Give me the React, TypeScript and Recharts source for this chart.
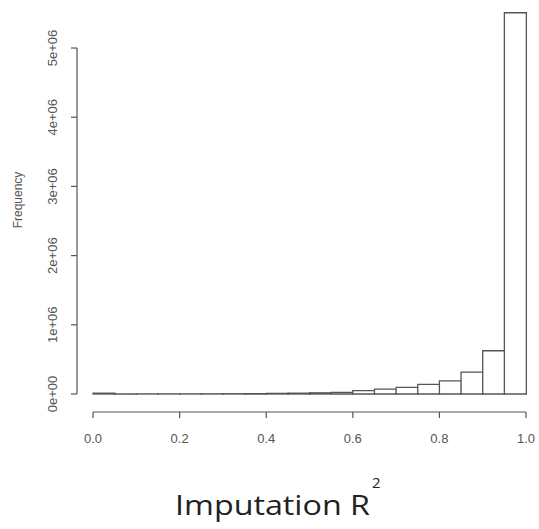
import React from 'react';
import { ComposedChart, Bar, XAxis, YAxis, ReferenceLine, Label } from 'recharts';

// histogram of imputation R^2, bins of width 0.05
const binStarts = [0, 0.05, 0.1, 0.15, 0.2, 0.25, 0.3, 0.35, 0.4, 0.45, 0.5, 0.55, 0.6, 0.65, 0.7, 0.75, 0.8, 0.85, 0.9, 0.95];
const frequency = [
  12000, 3000, 2000, 2000, 2000, 3000, 4000, 6000, 9000, 12000,
  17000, 25000, 48000, 72000, 97000, 140000, 190000, 315000, 625000, 5510000,
];
const binWidth = 0.05;

const xTicks = [0, 0.2, 0.4, 0.6, 0.8, 1];
const xTickLabels = ['0.0', '0.2', '0.4', '0.6', '0.8', '1.0'];
const yTicks = [0, 1e6, 2e6, 3e6, 4e6, 5e6];
const yTickLabels = ['0e+00', '1e+06', '2e+06', '3e+06', '4e+06', '5e+06'];

const data = binStarts.map((s, i) => ({ mid: s + binWidth / 2, count: frequency[i] }));

const gray = '#555';
const axisFont = '"Liberation Sans", Arial, sans-serif';
const titleFont = '"Open Sans", "Noto Sans", sans-serif';

const YTick = (props: any) => {
  const { x, y, payload } = props;
  const label = yTickLabels[yTicks.indexOf(payload.value)];
  return (
    <text x={x} y={y} transform={`rotate(-90, ${x}, ${y})`} textAnchor="middle"
      fontSize={13} fill={gray} fontFamily={axisFont}>
      {label}
    </text>
  );
};

const App = () => {
  return (
    <div style={{ position: 'absolute', left: 0, top: 0, width: 539, height: 529, background: '#fff' }}>
      <ComposedChart width={539} height={529} data={data}
        margin={{ top: 0, right: 0, bottom: 0, left: 0 }} barCategoryGap={0} barGap={0}>
        <XAxis dataKey="mid" type="number" domain={[-0.037, 1.03]} allowDataOverflow
          ticks={xTicks} tickFormatter={(v: number) => xTickLabels[xTicks.indexOf(v)]}
          axisLine={false} tickSize={6} tickMargin={16} height={117}
          tickLine={{ stroke: gray, strokeWidth: 1.2 }}
          tick={{ fontSize: 13, fill: gray, fontFamily: axisFont }}>
          <Label content={() => (
            <g fill="#222" fontFamily={titleFont}>
              <text x={175} y={515} fontSize={28} textLength={195} lengthAdjust="spacingAndGlyphs">
                Imputation R
              </text>
              <text x={372} y={488} fontSize={15}>2</text>
            </g>
          )} />
        </XAxis>
        <YAxis type="number" domain={[-260000, 5694000]} allowDataOverflow
          ticks={yTicks} tick={<YTick />} axisLine={false} tickSize={6} tickMargin={14} width={77}
          tickLine={{ stroke: gray, strokeWidth: 1.2 }}>
          <Label content={() => (
            <text x={22} y={200} transform="rotate(-90, 22, 200)" textAnchor="middle"
              fontSize={12} fill={gray} fontFamily={axisFont}>
              Frequency
            </text>
          )} />
        </YAxis>
        <ReferenceLine segment={[{ x: -0.037, y: 0 }, { x: -0.037, y: 5e6 }]}
          stroke={gray} strokeWidth={1.2} ifOverflow="visible" />
        <ReferenceLine segment={[{ x: 0, y: -260000 }, { x: 1, y: -260000 }]}
          stroke={gray} strokeWidth={1.2} ifOverflow="visible" />
        <Bar dataKey="count" fill="#fff" stroke={gray} strokeWidth={1.3} isAnimationActive={false} />
      </ComposedChart>
    </div>
  );
};

export default App;
